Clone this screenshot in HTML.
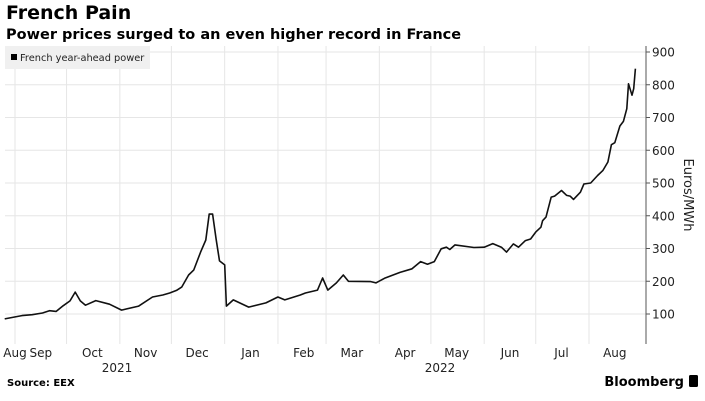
<!DOCTYPE html>
<html><head><meta charset="utf-8"><style>
body{margin:0;background:#fff;width:705px;height:401px;overflow:hidden;font-family:"DejaVu Sans","Liberation Sans",sans-serif}
svg{position:absolute;left:0;top:0}
</style></head><body>
<svg width="705" height="401">
<text x="6" y="19" font-size="19" font-weight="bold" fill="#000">French Pain</text>
<text x="6" y="39" font-size="14.5" font-weight="bold" fill="#000">Power prices surged to an even higher record in France</text>
<g id="grid"></g>
<rect x="5" y="46" width="145" height="23" fill="#f0f0f0"/>
<rect x="11" y="54" width="6" height="6" fill="#000"/>
<text x="20" y="61" font-size="9.8" fill="#222">French year-ahead power</text>
<line x1="646" y1="46" x2="646" y2="344" stroke="#555" stroke-width="1"/>
<g id="yticks"></g>
<g id="xticks"></g>
<path id="line" fill="none" stroke="#111" stroke-width="1.6" stroke-linejoin="round"/>
<text transform="translate(684,195) rotate(90)" font-size="13" fill="#222" text-anchor="middle">Euros/MWh</text>
<text x="117" y="372" font-size="12" fill="#222" text-anchor="middle">2021</text>
<text x="440" y="372" font-size="12" fill="#222" text-anchor="middle">2022</text>
<text x="7" y="386" font-size="10" font-weight="bold" fill="#000">Source: EEX</text>
<text x="684" y="386" font-size="13" font-weight="bold" fill="#000" text-anchor="end">Bloomberg</text>
<rect x="689" y="375" width="9" height="12" rx="1.5" fill="#000"/>
</svg>
<script>
const days=[-6,4,10,16,20,24,28,32,35,38,41,47,55,62,72,80,86,90,94,97,101,104,108,111,113,115,117,119,122,123,127,136,146,153,157,166,169,176,179,182,187,191,194,207,210,215,224,231,236,240,244,248,251,253,256,267,273,278,283,286,290,293,297,300,303,306,307,309,312,314,318,321,323,325,329,331,335,339,342,345,347,349,352,354,356,357,359,360,361];
const prices=[85,95,98,103,110,108,125,140,167,140,127,141,130,112,124,152,158,164,172,182,219,234,289,326,405,405,329,262,250,124,143,121,134,152,143,158,164,173,210,173,195,219,200,199,195,209,227,238,260,252,260,299,304,297,311,303,304,315,304,289,314,304,324,329,350,365,385,396,457,460,477,462,460,450,472,497,500,523,538,564,617,623,674,688,727,803,768,788,849];
const yTicks=[100,200,300,400,500,600,700,800,900];
const months=["Aug","Sep","Oct","Nov","Dec","Jan","Feb","Mar","Apr","May","Jun","Jul","Aug"];
const monthStartDays=[-31,0,30,61,91,122,153,181,212,242,273,303,334];
const X=d=>15+d*1.7186;
const Y=v=>314-(v-100)*0.3275;
const NS="http://www.w3.org/2000/svg";
const grid=document.getElementById('grid'),yt=document.getElementById('yticks'),xt=document.getElementById('xticks');
yTicks.forEach(v=>{
 const l=document.createElementNS(NS,'line');
 
 
 l.setAttribute('x1',5);l.setAttribute('x2',646);l.setAttribute('y1',Y(v));l.setAttribute('y2',Y(v));
 l.setAttribute('stroke','#e6e6e6');grid.appendChild(l);
 const t=document.createElementNS(NS,'text');
 
 
 t.setAttribute('x',652);t.setAttribute('y',Y(v)+4.5);t.setAttribute('font-size','12');t.setAttribute('fill','#222');
 t.textContent=v;yt.appendChild(t);
 const k=document.createElementNS(NS,'line');
 
 
 k.setAttribute('x1',646);k.setAttribute('x2',650);k.setAttribute('y1',Y(v));k.setAttribute('y2',Y(v));k.setAttribute('stroke','#555');yt.appendChild(k);
});
monthStartDays.forEach((d,i)=>{
 if(i>0){
 const l=document.createElementNS(NS,'line');
 
 
 l.setAttribute('x1',X(d));l.setAttribute('x2',X(d));l.setAttribute('y1',46);l.setAttribute('y2',344);
 l.setAttribute('stroke','#e6e6e6');grid.appendChild(l);}
 const t=document.createElementNS(NS,'text');
 
 
 let cx=i===0?X(0):X(d+15);
 t.setAttribute('x',cx);t.setAttribute('y',357);t.setAttribute('font-size','12');t.setAttribute('fill','#222');t.setAttribute('text-anchor','middle');
 t.textContent=months[i];xt.appendChild(t);
});
document.getElementById('line').setAttribute('d',days.map((d,i)=>(i?'L':'M')+X(d).toFixed(1)+','+Y(prices[i]).toFixed(1)).join(''));
</script>
</body></html>
